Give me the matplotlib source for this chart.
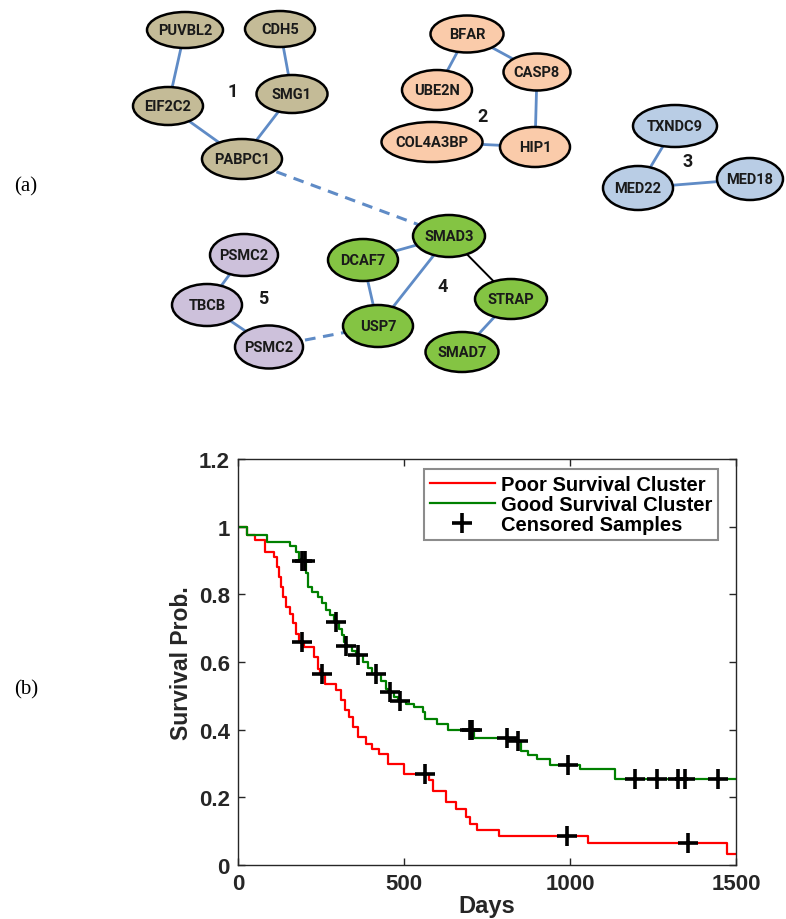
import numpy as np
import matplotlib.pyplot as plt
from matplotlib.patches import Ellipse

# ---------------- panel (a): gene network (pixel positions of the figure)
gene_label = ['PUVBL2', 'CDH5', 'EIF2C2', 'SMG1', 'PABPC1',
              'BFAR', 'CASP8', 'UBE2N', 'COL4A3BP', 'HIP1',
              'TXNDC9', 'MED22', 'MED18',
              'SMAD3', 'DCAF7', 'USP7', 'STRAP', 'SMAD7',
              'PSMC2', 'TBCB', 'PSMC2']
gene_x = [185, 280, 168, 292, 242,
          467, 537, 437, 432, 535,
          675, 638, 750,
          449, 363, 378, 511, 462,
          244, 207, 269]
gene_y = [31, 30, 107, 95, 160,
          35, 73, 91, 143, 148,
          127, 189, 180,
          237, 261, 327, 300, 353,
          256, 306, 348]
gene_w = [76, 70, 70, 71, 80,
          73, 67, 70, 101, 70,
          84, 70, 66,
          72, 70, 70, 72, 73,
          68, 70, 68]
gene_h = [36, 36, 38, 38, 40,
          37, 37, 40, 40, 40,
          42, 44, 42,
          42, 42, 42, 40, 40,
          42, 42, 43]
gene_cluster = [1, 1, 1, 1, 1,
                2, 2, 2, 2, 2,
                3, 3, 3,
                4, 4, 4, 4, 4,
                5, 5, 5]
cluster_color = {1: '#c4bb97', 2: '#facbaa', 3: '#b9cde5',
                 4: '#84c443', 5: '#cdc1db'}
cluster_num_x = [233, 483, 688, 443, 263]
cluster_num_y = [92, 117, 162, 287, 299]

edges_solid = [(0, 2), (1, 3), (2, 4), (3, 4),
               (5, 7), (5, 6), (6, 9), (8, 9),
               (10, 11), (11, 12),
               (14, 13), (15, 13), (14, 15), (16, 17),
               (18, 19), (19, 20)]
edges_black = [(13, 16)]
edges_dashed = [(4, 13), (20, 15)]

# ---------------- panel (b): Kaplan-Meier curves
poor_t = [0, 28, 52, 81, 109, 117, 124, 130, 136, 145, 157, 165, 175, 185,
          199, 229, 242, 248, 262, 296, 310, 322, 335, 347, 362, 386, 405,
          426, 453, 501, 576, 586, 628, 656, 688, 700, 719, 785, 1055, 1474]
poor_s = [1.0, .974, .961, .926, .911, .881, .852, .822, .792, .763, .743,
          .714, .684, .659, .643, .615, .580, .566, .536, .516, .487, .457,
          .437, .408, .378, .358, .343, .329, .299, .269, .250, .218, .186,
          .166, .141, .121, .102, .086, .065, .032]
poor_cens = [193, 254, 562, 990, 1356]

good_t = [0, 28, 88, 157, 175, 185, 193, 206, 211, 223, 242, 254, 266, 278,
          290, 304, 314, 320, 326, 342, 356, 378, 392, 405, 432, 447, 453,
          471, 483, 507, 531, 556, 564, 598, 634, 710, 835, 851, 874, 900,
          939, 1030, 1136]
good_s = [1.0, .974, .955, .944, .925, .905, .899, .862, .822, .807, .792,
          .773, .753, .738, .718, .699, .679, .659, .647, .633, .620, .600,
          .583, .565, .544, .521, .511, .498, .485, .477, .467, .452, .432,
          .417, .398, .376, .367, .338, .324, .312, .297, .284, .254]
good_cens = [193, 203, 296, 326, 362, 417, 459, 489, 700, 705, 810, 844,
             994, 1196, 1262, 1325, 1346, 1446]

day_max = 1500

fig = plt.figure(figsize=(7.86, 9.2), dpi=100)

# network axes in pixel units
ax1 = fig.add_axes([0, 1 - 400 / 920, 1, 400 / 920])
ax1.set_xlim(0, 786)
ax1.set_ylim(400, 0)
ax1.axis('off')

blue = '#5f8bc6'
for a, b in edges_solid:
    ax1.plot([gene_x[a], gene_x[b]], [gene_y[a], gene_y[b]], color=blue,
             lw=2.0, zorder=1)
for a, b in edges_black:
    ax1.plot([gene_x[a], gene_x[b]], [gene_y[a], gene_y[b]], color='black',
             lw=1.4, zorder=1)
for a, b in edges_dashed:
    ax1.plot([gene_x[a], gene_x[b]], [gene_y[a], gene_y[b]], color=blue,
             lw=2.2, ls=(0, (3.5, 2.5)), zorder=1)

for i in range(len(gene_label)):
    ax1.add_patch(Ellipse((gene_x[i], gene_y[i]), gene_w[i], gene_h[i],
                          facecolor=cluster_color[gene_cluster[i]],
                          edgecolor='black', lw=1.8, zorder=2))
    ax1.text(gene_x[i], gene_y[i], gene_label[i], ha='center', va='center',
             family='Roboto', weight='bold', fontsize=10.5, color='#1a1a1a',
             zorder=3)

for k in range(5):
    ax1.text(cluster_num_x[k], cluster_num_y[k], str(k + 1), ha='center',
             va='center', family='Roboto', weight='bold', fontsize=13,
             color='#1a1a1a')

fig.text(26 / 786, 1 - 187 / 920, '(a)', family='Liberation Serif',
         fontsize=15, ha='center', va='center')
fig.text(26 / 786, 1 - 690 / 920, '(b)', family='Liberation Serif',
         fontsize=15, ha='center', va='center')

# survival axes
ax2 = fig.add_axes([238 / 786, 1 - 866 / 920, 498 / 786, 406 / 920])


def step_level(t, s, x):
    idx = np.searchsorted(np.asarray(t), np.asarray(x), side='right') - 1
    return np.asarray(s)[idx]


ax2.step(poor_t + [day_max], poor_s + [poor_s[-1]], where='post',
         color='#ff0000', lw=1.6, label='Poor Survival Cluster')
ax2.step(good_t + [day_max], good_s + [good_s[-1]], where='post',
         color='#008000', lw=1.6, label='Good Survival Cluster')
ax2.plot(poor_cens, step_level(poor_t, poor_s, poor_cens), '+', color='black',
         ms=15, mew=2.6, ls='none', label='Censored Samples')
ax2.plot(good_cens, step_level(good_t, good_s, good_cens), '+', color='black',
         ms=15, mew=2.6, ls='none')

ax2.set_xlim(0, day_max)
ax2.set_ylim(0, 1.2)
ax2.set_xticks([0, 500, 1000, 1500])
ax2.set_yticks([0, 0.2, 0.4, 0.6, 0.8, 1.0, 1.2])
ax2.set_yticklabels(['0', '0.2', '0.4', '0.6', '0.8', '1', '1.2'])
ax2.tick_params(direction='in', top=True, right=True, length=5, width=1,
                colors='#262626', labelsize=16, pad=6)
for lab in ax2.get_xticklabels() + ax2.get_yticklabels():
    lab.set_family('Liberation Sans')
    lab.set_weight('bold')
for sp in ax2.spines.values():
    sp.set_color('#262626')
    sp.set_linewidth(1)

ax2.set_xlabel('Days', family='Liberation Sans', weight='bold', fontsize=17,
               color='#262626', labelpad=0)
ax2.set_ylabel('Survival Prob.', family='Liberation Sans', weight='bold',
               fontsize=16.5, color='#262626', labelpad=4)

leg = ax2.legend(loc='upper right', bbox_to_anchor=(0.964, 0.975),
                 borderaxespad=0, fancybox=False, framealpha=1,
                 edgecolor='#8c8c8c', handlelength=3.2, handletextpad=0.3,
                 labelspacing=0.05, borderpad=0.3,
                 prop={'family': 'Liberation Sans', 'weight': 'bold',
                       'size': 14.5})
leg.get_frame().set_linewidth(1.5)

fig.savefig('out.png', dpi=100)
